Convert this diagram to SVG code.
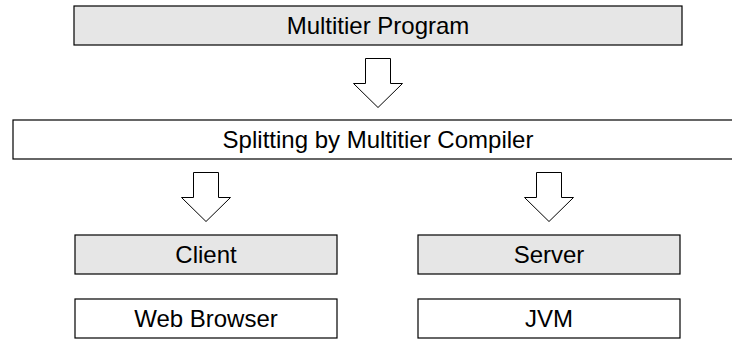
<svg xmlns="http://www.w3.org/2000/svg" width="732" height="339" viewBox="0 0 732 339">
<style>
.box{stroke:#000;stroke-width:1.2}
.grey{fill:#e6e6e6}
.white{fill:#fff}
.lbl{font-family:"Liberation Sans",Arial,sans-serif;font-size:24px;fill:#000;text-anchor:middle}
.arrow{fill:#fff;stroke:#000;stroke-width:1;stroke-linejoin:miter}
</style>
<rect width="732" height="339" fill="#fff"/>
<g id="multitier-program">
<rect class="box grey" x="74" y="6" width="608" height="39"/>
<text class="lbl" x="378" y="34">Multitier Program</text>
</g>
<g id="splitting">
<rect class="box white" x="13" y="120" width="740" height="39"/>
<text class="lbl" x="378" y="148">Splitting by Multitier Compiler</text>
</g>
<g id="client">
<rect class="box grey" x="75" y="235" width="262" height="39"/>
<text class="lbl" x="206" y="263">Client</text>
</g>
<g id="web-browser">
<rect class="box white" x="75" y="299" width="262" height="39"/>
<text class="lbl" x="206" y="327">Web Browser</text>
</g>
<g id="server">
<rect class="box grey" x="418" y="235" width="262" height="39"/>
<text class="lbl" x="549" y="263">Server</text>
</g>
<g id="jvm">
<rect class="box white" x="418" y="299" width="262" height="39"/>
<text class="lbl" x="549" y="327">JVM</text>
</g>
<g id="connectors">
<polygon class="arrow" points="365.5,58.5 390.5,58.5 390.5,83.5 402.5,83.5 378,107.5 353.5,83.5 365.5,83.5"/>
<polygon class="arrow" points="193.5,172.5 218.5,172.5 218.5,197.5 230.5,197.5 206,221.5 181.5,197.5 193.5,197.5"/>
<polygon class="arrow" points="536.5,172.5 561.5,172.5 561.5,197.5 573.5,197.5 549,221.5 524.5,197.5 536.5,197.5"/>
</g>
</svg>
